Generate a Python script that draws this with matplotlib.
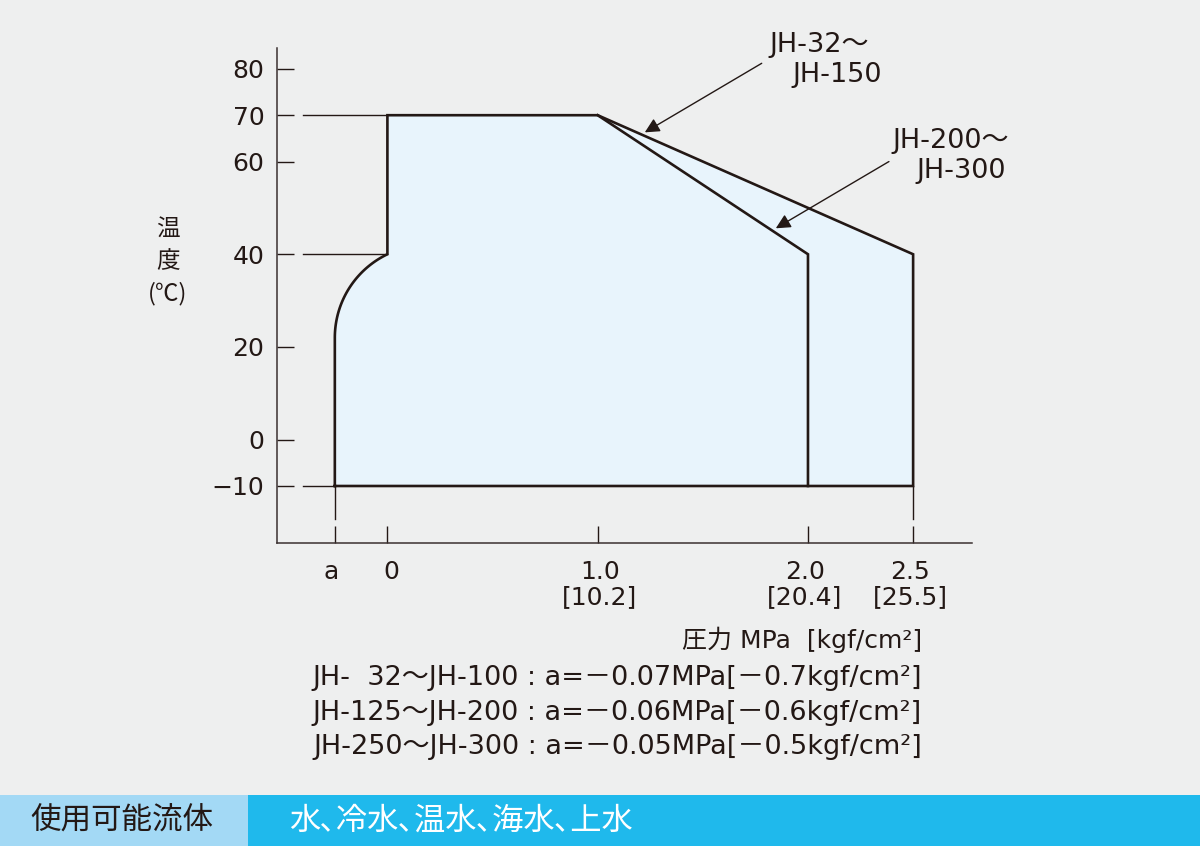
import matplotlib.pyplot as plt
import matplotlib.transforms as mtransforms
import numpy as np

lat = ['DejaVu Sans', 'Noto Sans CJK JP']
cjk = ['Noto Sans CJK JP', 'DejaVu Sans']
plt.rcParams['font.family'] = lat

# --- data ---
a_pos = -0.25            # schematic position of "a"
p_max_small = 2.0        # JH-200~JH-300
p_max_large = 2.5        # JH-32~JH-150
t_min, t_bend, t_top, t_arc = -10, 40, 70, 22
p_knee = 1.0

yticks = [80, 70, 60, 40, 20, 0, -10]
ytick_labels = ['80', '70', '60', '40', '20', '0', '−10']
xticks = [a_pos, 0, 1.0, 2.0, 2.5]
xtick_labels = ['a', '0', '1.0\n[10.2]', '2.0\n[20.4]', '2.5\n[25.5]']

notes = ['JH-  32～JH-100 : a=－0.07MPa[－0.7kgf/cm²]',
         'JH-125～JH-200 : a=－0.06MPa[－0.6kgf/cm²]',
         'JH-250～JH-300 : a=－0.05MPa[－0.5kgf/cm²]']
fluid_label = '使用可能流体'
fluid_text = '水､冷水､温水､海水､上水'

ink = '#231815'
bg = '#eeefef'
fill = '#e8f4fc'

fig = plt.figure(figsize=(12, 8.46), dpi=100, facecolor=bg)
ax = fig.add_axes([277/1200, 1-543/846, 695/1200, 495/846])
ax.set_facecolor(bg)
ax.set_xlim(-0.525, 2.78)
ax.set_ylim(-22.3, 84.5)

# arc from (a, t_arc) to (0, t_bend), circular in screen space
sx, sy = 210.3, 4.63
x0, y0 = a_pos*sx, t_arc*sy
x1, y1 = 0, t_bend*sy
R = ((x1-x0)**2 + (y1-y0)**2) / (2*(x1-x0))
cx, cy = x0 + R, y0
th = np.linspace(np.pi, np.arctan2(y1-cy, x1-cx), 60)
arc_x = (cx + R*np.cos(th)) / sx
arc_y = (cy + R*np.sin(th)) / sy

outline_x = np.concatenate([[a_pos], arc_x, [0, 0, p_knee, p_max_large, p_max_large, a_pos]])
outline_y = np.concatenate([[t_min], arc_y, [t_bend, t_top, t_top, t_bend, t_min, t_min]])
ax.fill(outline_x, outline_y, color=fill, zorder=1)
ax.plot(outline_x, outline_y, color=ink, lw=1.9, zorder=3, solid_joinstyle='miter')
ax.plot([p_knee, p_max_small, p_max_small], [t_top, t_bend, t_min], color=ink, lw=1.9,
        zorder=3, solid_joinstyle='miter')

# guide lines
for t, xe in [(t_top, 0), (t_bend, 0), (t_min, a_pos)]:
    ax.plot([-0.402, xe], [t, t], color=ink, lw=1.0, zorder=2)
for p in [a_pos, p_max_large]:
    ax.plot([p, p], [t_min, -17.1], color=ink, lw=1.0, zorder=2)

# axes styling
for s in ['top', 'right']:
    ax.spines[s].set_visible(False)
for s in ['left', 'bottom']:
    ax.spines[s].set_color('#3a3030')
    ax.spines[s].set_linewidth(1.1)
ax.set_yticks(yticks)
ax.set_yticklabels(ytick_labels)
ax.set_xticks(xticks)
ax.set_xticklabels(xtick_labels, linespacing=1.05)
ax.tick_params(axis='both', direction='in', length=12, width=1.0, color=ink,
               labelcolor=ink, labelsize=18)
ax.tick_params(axis='y', pad=9)
ax.tick_params(axis='x', pad=12)
shifts = [-4, 4, 2, -3, -3]
for lab, dx in zip(ax.get_xticklabels(), shifts):
    lab.set_transform(lab.get_transform() +
                      mtransforms.ScaledTranslation(dx/100, 0, fig.dpi_scale_trans))

# y label
fig.text(168/1200, 1-262/846, '温\n度\n(℃)', ha='center', va='center', fontsize=17,
         color=ink, linespacing=1.45, family=cjk)

# annotations
arrow = dict(arrowstyle='-|>', color=ink, lw=1.0, mutation_scale=22, shrinkA=0, shrinkB=0)
ax.annotate('', xy=(1.224, 66.3), xytext=(1.78, 81.2), arrowprops=arrow, zorder=4)
ax.annotate('', xy=(1.847, 45.6), xytext=(2.385, 60.0), arrowprops=arrow, zorder=4)
for x, y, s in [(1.815, 85.1, 'JH-32～'), (1.928, 78.6, 'JH-150'),
                (2.40, 64.4, 'JH-200～'), (2.518, 57.9, 'JH-300')]:
    ax.text(x, y, s, fontsize=19.5, color=ink, va='center', ha='left', clip_on=False)

# pressure unit + notes
fig.text(922/1200, 1-640/846, '圧力 MPa  [kgf/cm²]', ha='right', va='center', fontsize=18,
         color=ink)
for i, line in enumerate(notes):
    fig.text(922/1200, 1-(678 + 34.5*i)/846, line, ha='right', va='center', fontsize=19.5,
             color=ink)

# bottom band
fig.patches.append(plt.Rectangle((0, 0), 248/1200, 51/846, transform=fig.transFigure,
                                 facecolor='#a3d9f5', edgecolor='none'))
fig.patches.append(plt.Rectangle((248/1200, 0), 952/1200, 51/846, transform=fig.transFigure,
                                 facecolor='#1fb9ec', edgecolor='none'))
fig.text(30/1200, 1-821/846, fluid_label, ha='left', va='center', fontsize=22, color=ink, family=cjk)
fig.text(289/1200, 1-821/846, fluid_text, ha='left', va='center', fontsize=22.5, color='white', family=cjk)

fig.savefig('out.png', dpi=100, facecolor=bg)
